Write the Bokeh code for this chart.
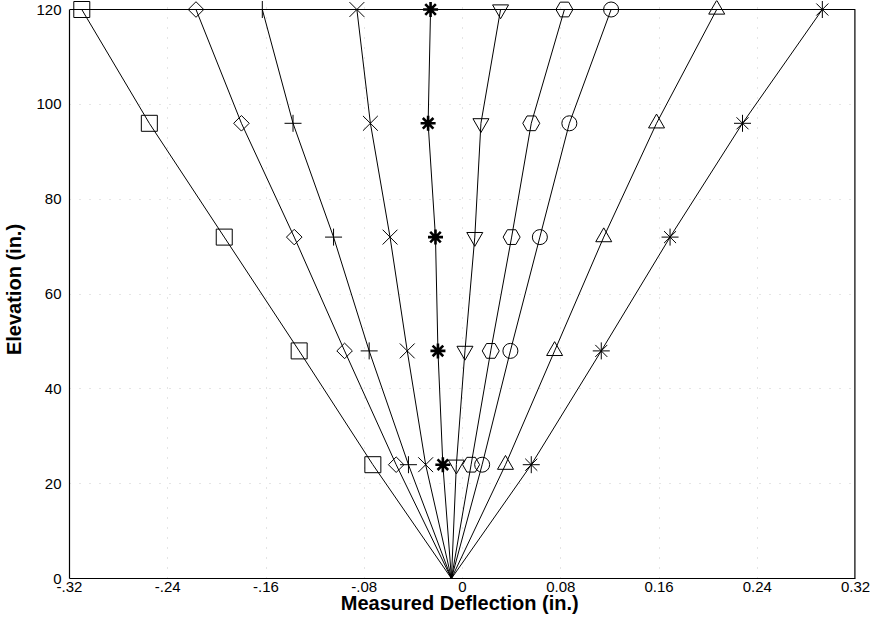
import math
from bokeh.plotting import figure
from bokeh.models import Range1d, FixedTicker, Span
from bokeh.embed import file_html
from bokeh.resources import INLINE

# ---- data ----
elevation = [0, 24, 48, 72, 96, 120]

s_square   = [-0.009, -0.073, -0.133, -0.194, -0.255, -0.310]
s_diamond  = [-0.009, -0.054, -0.096, -0.137, -0.180, -0.217]
s_plus     = [-0.009, -0.044, -0.076, -0.105, -0.138, -0.163]
s_x        = [-0.009, -0.030, -0.045, -0.059, -0.075, -0.086]
s_ast_bold = [-0.009, -0.016, -0.020, -0.022, -0.028, -0.026]
s_tri_down = [-0.009, -0.005, 0.002, 0.010, 0.015, 0.031]
s_hex      = [-0.009, 0.007, 0.023, 0.040, 0.056, 0.083]
s_circle   = [-0.009, 0.016, 0.039, 0.063, 0.087, 0.121]
s_tri      = [-0.009, 0.035, 0.075, 0.115, 0.158, 0.207]
s_star     = [-0.009, 0.056, 0.113, 0.169, 0.228, 0.293]

x_ticks = [-0.32, -0.24, -0.16, -0.08, 0, 0.08, 0.16, 0.24, 0.32]
x_tick_labels = ["-.32", "-.24", "-.16", "-.08", "0", "0.08", "0.16", "0.24", "0.32"]
y_ticks = [0, 20, 40, 60, 80, 100, 120]

# (values, marker, size, line width, angle)
series = [
    (s_square, "square", 16, 1, 0),
    (s_diamond, "square", 11, 1, math.pi / 4),
    (s_plus, "cross", 17, 1, 0),
    (s_x, "x", 21, 1, 0),
    (s_ast_bold, "asterisk", 15, 2.6, 0),
    (s_tri_down, "inverted_triangle", 16, 1, 0),
    (s_hex, "hex", 17, 1, 0),
    (s_circle, "circle", 15, 1, 0),
    (s_tri, "triangle", 16, 1, 0),
    (s_star, "asterisk", 17, 1, 0),
]

FONT = "Liberation Sans"

p = figure(width=870, height=616, output_backend="svg", toolbar_location=None,
           x_range=Range1d(x_ticks[0], x_ticks[-1]),
           y_range=Range1d(y_ticks[0], y_ticks[-1] + 1.9),
           min_border_left=66, min_border_right=15, min_border_top=0,
           min_border_bottom=38)
p.outline_line_color = None
p.background_fill_color = "white"

# faint dotted grid
for g in (p.xgrid, p.ygrid):
    g.grid_line_color = "#a0a0a0"
    g.grid_line_dash = "1 9"
    g.grid_line_alpha = 0.55
p.xgrid.ticker = FixedTicker(ticks=x_ticks)
p.ygrid.ticker = FixedTicker(ticks=y_ticks)

# axes
p.xaxis.ticker = FixedTicker(ticks=x_ticks)
p.xaxis.major_label_overrides = {t: l for t, l in zip(x_ticks, x_tick_labels)}
p.yaxis.ticker = FixedTicker(ticks=y_ticks)
p.yaxis.bounds = (y_ticks[0], y_ticks[-1])
for ax in (p.xaxis, p.yaxis):
    ax.major_tick_out = 0
    ax.major_tick_in = 0
    ax.minor_tick_out = 0
    ax.minor_tick_in = 0
    ax.axis_line_color = "black"
    ax.axis_line_width = 1.2
    ax.major_label_text_font = FONT
    ax.major_label_text_font_size = "15px"
    ax.major_label_text_color = "black"
    ax.axis_label_text_font = FONT
    ax.axis_label_text_font_size = "20px"
    ax.axis_label_text_font_style = "bold"
    ax.axis_label_text_color = "black"
p.xaxis.axis_label = "Measured Deflection  (in.)"
p.yaxis.axis_label = "Elevation (in.)"
p.xaxis.major_label_standoff = 3
p.xaxis.axis_label_standoff = -3
p.yaxis.major_label_standoff = 8
p.yaxis.axis_label_standoff = 8

# frame: top and right edges
p.add_layout(Span(location=y_ticks[-1], dimension="width",
                  line_color="black", line_width=1.2))
p.segment(x0=[x_ticks[-1]], y0=[y_ticks[0]], x1=[x_ticks[-1]], y1=[y_ticks[-1]],
          line_color="black", line_width=2.4)

for xs, marker, size, lw, ang in series:
    p.line(xs, elevation, line_color="black", line_width=1)
    p.scatter(xs[1:], elevation[1:], marker=marker, size=size, angle=ang,
              fill_color=None, line_color="black", line_width=lw)

open("out.html", "w").write(file_html(p, INLINE))
